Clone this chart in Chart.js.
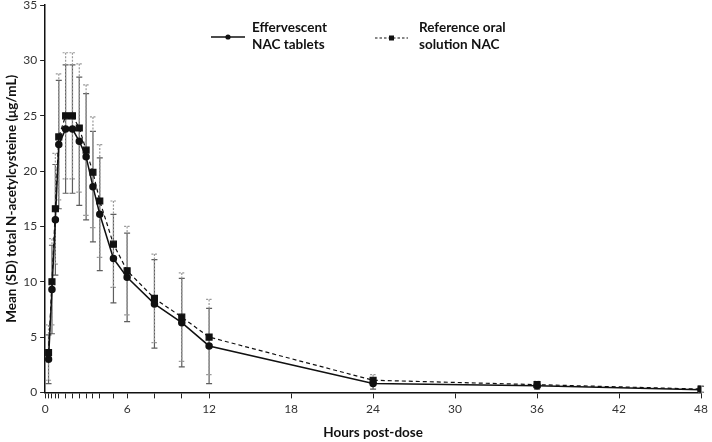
<!DOCTYPE html>
<html>
<head>
<meta charset="utf-8">
<script src="https://cdn.jsdelivr.net/npm/chart.js@4"></script>
<style>
  html, body { margin: 0; padding: 0; background: #fff; overflow: hidden; }
  #wrap { width: 712px; height: 442px; overflow: hidden; }
  #myChart { display: block; margin-top: -5px; }
</style>
</head>
<body>
<div id="wrap"><canvas id="myChart" width="712" height="452"></canvas></div>
<script>
// sampling times (hours post-dose)
const hours = [0.25, 0.5, 0.75, 1, 1.5, 2, 2.5, 3, 3.5, 4, 5, 6, 8, 10, 12, 24, 36, 48];
// effervescent NAC tablets: mean and SD (ug/mL)
const effMean = [3.0, 9.3, 15.6, 22.4, 23.8, 23.8, 22.7, 21.3, 18.6, 16.1, 12.1, 10.4, 8.0, 6.3, 4.2, 0.8, 0.6, 0.25];
const effSD = [2.2, 4.0, 5.0, 5.8, 5.8, 5.8, 5.8, 5.7, 5.0, 5.1, 4.0, 4.0, 4.0, 4.0, 3.4, 0.5, 0.3, 0.3];
// reference oral solution NAC: mean and SD (ug/mL)
const refMean = [3.6, 10.0, 16.6, 23.1, 25.0, 25.0, 23.9, 21.9, 19.9, 17.3, 13.4, 11.0, 8.5, 6.8, 5.0, 1.1, 0.7, 0.3];
const refSD = [2.5, 3.9, 5.0, 5.7, 5.7, 5.7, 5.8, 5.9, 5.0, 5.1, 3.9, 4.0, 4.0, 4.0, 3.4, 0.5, 0.3, 0.3];
// x axis tick positions and labelled hours
const xTicks = [0, 0.25, 0.5, 0.75, 1, 1.5, 2, 2.5, 3, 3.5, 4, 5, 6, 8, 10, 12, 18, 24, 30, 36, 42, 48];
const xLabels = [0, 6, 12, 18, 24, 30, 36, 42, 48];
const yTicks = [0, 5, 10, 15, 20, 25, 30, 35];

const sdList = [effSD, refSD];

const errorBars = {
    id: 'errorBars',
    beforeDatasetsDraw(chart) {
        const ctx = chart.ctx;
        const x = chart.scales.x, y = chart.scales.y;
        chart.data.datasets.forEach((ds, di) => {
            const sd = sdList[di];
            ctx.save();
            ctx.strokeStyle = di === 0 ? '#5e5e5e' : '#9a9a9a';
            ctx.lineWidth = 1.2;
            ctx.setLineDash(di === 0 ? [] : [2, 1.5]);
            ds.data.forEach((p, i) => {
                const px = x.getPixelForValue(p.x);
                const top = y.getPixelForValue(p.y + sd[i]);
                const bot = y.getPixelForValue(Math.max(p.y - sd[i], 0));
                ctx.beginPath();
                ctx.moveTo(px, top); ctx.lineTo(px, bot);
                ctx.moveTo(px - 3, top); ctx.lineTo(px + 3, top);
                ctx.moveTo(px - 3, bot); ctx.lineTo(px + 3, bot);
                ctx.stroke();
            });
            ctx.restore();
        });
    }
};

const legendBox = {
    id: 'legendBox',
    afterDraw(chart) {
        const ctx = chart.ctx;
        const oy = 5; // canvas is shifted up by 5px
        ctx.save();
        ctx.fillStyle = '#111';
        ctx.strokeStyle = '#111';
        ctx.font = 'bold 13.5px Lato, "Open Sans", sans-serif';
        ctx.textBaseline = 'middle';
        // solid
        ctx.lineWidth = 1.5;
        ctx.beginPath(); ctx.moveTo(211, 37 + oy); ctx.lineTo(245, 37 + oy); ctx.stroke();
        ctx.beginPath(); ctx.arc(228, 37 + oy, 2.6, 0, Math.PI * 2); ctx.fill();
        ctx.fillText('Effervescent', 252, 28 + oy);
        ctx.fillText('NAC tablets', 252, 45 + oy);
        // dashed
        ctx.lineWidth = 1.2;
        ctx.setLineDash([2.5, 2]);
        ctx.beginPath(); ctx.moveTo(375, 38 + oy); ctx.lineTo(408, 38 + oy); ctx.stroke();
        ctx.setLineDash([]);
        ctx.fillRect(389, 35.5 + oy, 5, 5);
        ctx.fillText('Reference oral', 419, 28 + oy);
        ctx.fillText('solution NAC', 419, 45 + oy);
        ctx.restore();
    }
};

const ctx = document.getElementById('myChart').getContext('2d');
const myChart = new Chart(ctx, {
    type: 'line',
    data: {
        datasets: [{
            label: 'Effervescent NAC tablets',
            data: hours.map((h, i) => ({ x: h, y: effMean[i] })),
            borderColor: '#111',
            backgroundColor: '#111',
            borderWidth: 1.5,
            pointStyle: 'circle',
            pointRadius: 3.0,
            tension: 0
        }, {
            label: 'Reference oral solution NAC',
            data: hours.map((h, i) => ({ x: h, y: refMean[i] })),
            borderColor: '#111',
            backgroundColor: '#111',
            borderWidth: 1.2,
            borderDash: [4, 3],
            pointStyle: 'rect',
            pointRadius: 4.2,
            tension: 0
        }]
    },
    options: {
        responsive: false,
        animation: false,
        layout: { padding: { top: 0, right: 6, left: 4, bottom: 0 } },
        plugins: {
            legend: { display: false },
            tooltip: { enabled: false }
        },
        scales: {
            x: {
                type: 'linear',
                min: 0,
                max: 48,
                afterBuildTicks: (axis) => { axis.ticks = xTicks.map(v => ({ value: v })); },
                ticks: {
                    autoSkip: false,
                    maxRotation: 0,
                    padding: 4,
                    color: '#333',
                    font: { family: 'Lato, "Open Sans", sans-serif', size: 12 },
                    callback: (v) => xLabels.includes(v) ? String(v) : ''
                },
                grid: { display: true, drawOnChartArea: false, drawTicks: true, tickLength: 6, color: '#222' },
                border: { display: true, color: '#111', width: 1.5 },
                title: {
                    display: true,
                    text: 'Hours post-dose',
                    color: '#111',
                    font: { family: 'Lato, "Open Sans", sans-serif', size: 13.5, weight: 'bold' },
                    padding: { top: 4, bottom: 6 }
                }
            },
            y: {
                min: 0,
                max: 35,
                afterBuildTicks: (axis) => { axis.ticks = yTicks.map(v => ({ value: v })); },
                ticks: {
                    padding: 3,
                    color: '#333',
                    font: { family: 'Lato, "Open Sans", sans-serif', size: 12 }
                },
                grid: { display: true, drawOnChartArea: false, drawTicks: true, tickLength: 5, color: '#222' },
                border: { display: true, color: '#111', width: 1.5 },
                title: {
                    display: true,
                    text: 'Mean (SD) total N-acetylcysteine (μg/mL)',
                    color: '#111',
                    font: { family: 'Lato, "Open Sans", sans-serif', size: 13.5, weight: 'bold' },
                    padding: { top: 0, bottom: 0 }
                }
            }
        }
    },
    plugins: [errorBars, legendBox]
});
</script>
</body>
</html>
